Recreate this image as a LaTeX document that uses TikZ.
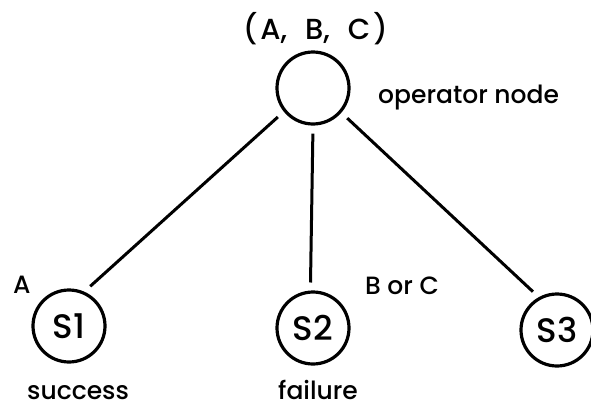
\documentclass[tikz,border=0pt]{standalone}
\usepackage{fontspec}
\setmainfont{Poppins Medium}
\begin{document}
\begin{tikzpicture}[x=1pt,y=-1pt,
  opnode/.style={circle,draw,line width=3.2pt,minimum size=72pt,inner sep=0pt,font=\fontsize{34}{36}\selectfont},
  edge/.style={line width=3pt,shorten <=8pt,shorten >=8pt},
  lbl/.style={font=\fontsize{25}{28}\selectfont,inner sep=0pt,text depth=0pt}]
\useasboundingbox (0,0) rectangle (591,407);
\node[opnode] (top) at (313,88) {};
\node[opnode] (s1) at (69,326) {S1};
\node[opnode] (s2) at (313,328) {S2};
\node[opnode] (s3) at (557,330) {S3};
\draw[edge] (top.219) -- (s1.66);
\draw[edge] (top.270) -- (s2.94);
\draw[edge] (top.319) -- (s3.119);
\node[lbl,font=\fontsize{29}{32}\selectfont,anchor=base west] (abc) at (243,39) {(\hspace{3pt}A,\hspace{18pt}B,\hspace{18pt}C\hspace{3pt})};
\node[lbl,anchor=base west] (op) at (378,103) {operator node};
\node[lbl,anchor=base west] (la) at (13,293) {A};
\node[lbl,anchor=base west] (lbc) at (365,294) {B or C};
\node[lbl,anchor=base west] (suc) at (27,399) {success};
\node[lbl,anchor=base west] (fail) at (278,399) {failure};
\end{tikzpicture}
\end{document}
